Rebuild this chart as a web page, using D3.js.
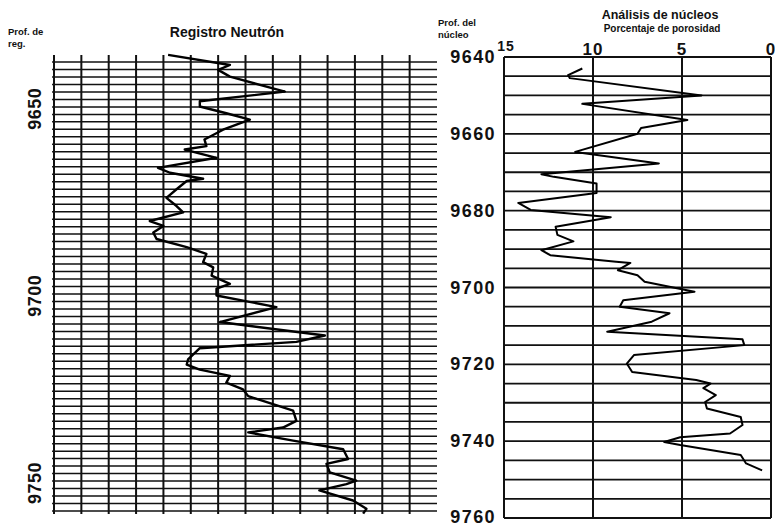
<!DOCTYPE html>
<html>

<head>
    <meta charset="utf-8">
    <script src="https://d3js.org/d3.v7.min.js"></script>
    <style>
        body { margin: 0; background: #fff; }
        svg text { font-family: "Liberation Sans", Arial, sans-serif; font-weight: bold; fill: #111; }
    </style>
</head>

<body>

    <svg id="chart"></svg>

    <script>
        // Registro Neutron: log depth (ft) and reading in chart divisions
        var logDepth = [9635.6, 9638.3, 9639.6, 9641.4, 9645.4, 9648.0, 9649.4, 9651.2, 9652.9, 9655.6,
            9658.2, 9660.0, 9660.9, 9663.1, 9665.8, 9667.1, 9668.7, 9669.3, 9671.5, 9673.8,
            9676.0, 9677.7, 9680.0, 9681.3, 9683.1, 9684.8, 9687.0, 9688.8, 9691.0, 9692.4,
            9694.6, 9696.8, 9698.1, 9699.9, 9703.0, 9707.0, 9710.6, 9712.3, 9714.0, 9717.0,
            9718.4, 9719.7, 9721.4, 9723.2, 9725.0, 9726.8, 9730.7, 9733.4, 9735.2, 9736.5,
            9738.7, 9741.0, 9743.6, 9744.9, 9747.2, 9749.4, 9750.3, 9752.0, 9754.7, 9756.9, 9758.2];
        var neutron = [4.17, 6.43, 6.0, 6.43, 8.44, 5.33, 5.33, 6.3, 7.16, 6.18,
            5.5, 5.57, 4.78, 5.94, 3.8, 4.24, 5.45, 4.85, 4.48, 4.11,
            4.48, 4.72, 3.5, 4.0, 3.63, 3.75, 4.85, 5.57, 5.45, 5.82,
            5.76, 6.43, 5.94, 5.94, 8.13, 6.06, 9.9, 8.86, 5.33, 4.9,
            4.85, 5.33, 6.43, 6.3, 6.91, 7.1, 8.74, 8.86, 8.37, 7.1,
            8.74, 10.57, 10.75, 9.96, 10.08, 11.05, 10.69, 9.7, 10.93, 11.42, 11.3];
        var logDepthTicks = [9650, 9700, 9750];

        // Analisis de nucleos: core depth (ft) and porosity (%)
        var coreDepth = [9643.0, 9644.7, 9645.5, 9650.0, 9652.2, 9656.4, 9658.5, 9660.0, 9664.7, 9667.7,
            9670.5, 9671.2, 9672.9, 9675.4, 9678.0, 9679.8, 9681.7, 9684.2, 9686.3, 9688.0,
            9690.3, 9691.6, 9693.3, 9693.6, 9695.5, 9696.8, 9698.5, 9701.1, 9703.3, 9705.0,
            9706.7, 9708.9, 9711.5, 9713.5, 9715.0, 9717.6, 9719.8, 9722.0, 9724.1, 9725.0,
            9726.2, 9728.0, 9729.8, 9731.5, 9733.7, 9735.8, 9738.0, 9739.0, 9740.2, 9741.0,
            9743.6, 9745.8, 9747.6];
        var porosity = [10.6, 11.4, 11.3, 3.9, 10.6, 4.7, 7.3, 7.5, 11.0, 6.3,
            12.9, 12.2, 9.8, 9.8, 14.2, 13.5, 9.0, 12.1, 12.0, 11.1,
            12.9, 12.4, 8.7, 7.9, 8.6, 7.5, 7.1, 4.3, 8.3, 8.5,
            5.7, 6.7, 9.2, 1.6, 1.5, 7.7, 8.1, 7.8, 4.2, 3.4,
            3.8, 3.1, 3.7, 3.6, 1.7, 1.6, 2.3, 5.1, 6.0, 5.1,
            1.7, 1.4, 0.5];
        var coreDepthTicks = [9640, 9660, 9680, 9700, 9720, 9740, 9760];
        var porosityTicks = [15, 10, 5, 0];

        var width = 775,
            height = 526;

        var svg = d3.select("#chart")
            .attr("width", width)
            .attr("height", height);

        // ---------- left panel: neutron log ----------
        var xL = d3.scaleLinear().domain([0, 14]).range([54, 437]);
        var yL = d3.scaleLinear().domain([9637.5, 9757.5]).range([62, 511]);

        var left = svg.append("g");

        // horizontal lines every 2 ft
        left.selectAll(".hl")
            .data(d3.range(0, 61).map(i => 9637.5 + i * 2))
            .join("line")
            .attr("x1", xL(-0.07)).attr("x2", xL(14))
            .attr("y1", d => yL(d)).attr("y2", d => yL(d))
            .style("stroke", "#111")
            .style("stroke-width", 1.5);

        // vertical division lines
        left.selectAll(".vl")
            .data(d3.range(0, 14))
            .join("line")
            .attr("x1", d => xL(d)).attr("x2", d => xL(d))
            .attr("y1", 55).attr("y2", 514)
            .style("stroke", "#111")
            .style("stroke-width", 2);

        left.append("path")
            .datum(d3.zip(neutron, logDepth))
            .attr("fill", "none")
            .attr("stroke", "#000")
            .attr("stroke-width", 2.4)
            .attr("stroke-linejoin", "round")
            .attr("d", d3.line().x(d => xL(d[0])).y(d => yL(d[1])));

        // rotated depth labels
        left.selectAll(".dl")
            .data(logDepthTicks)
            .join("text")
            .attr("transform", d => "translate(41," + yL(d) + ") rotate(-90)")
            .attr("text-anchor", "middle")
            .style("font-size", "18px")
            .style("letter-spacing", "0.5px")
            .text(d => d);

        svg.append("text").attr("x", 8).attr("y", 35).style("font-size", "9.5px").text("Prof. de");
        svg.append("text").attr("x", 8).attr("y", 47).style("font-size", "9.5px").text("reg.");
        svg.append("text").attr("x", 227).attr("y", 37)
            .attr("text-anchor", "middle")
            .style("font-size", "14px")
            .text("Registro Neutrón");

        // ---------- right panel: core analysis ----------
        var xR = d3.scaleLinear().domain([15, 0]).range([504, 771]);
        var yR = d3.scaleLinear().domain([9640, 9760]).range([57, 518]);

        var right = svg.append("g");

        right.selectAll(".hr")
            .data(d3.range(9640, 9761, 5))
            .join("line")
            .attr("x1", xR(15)).attr("x2", xR(0))
            .attr("y1", d => yR(d)).attr("y2", d => yR(d))
            .style("stroke", "#111")
            .style("stroke-width", 1.8);

        right.selectAll(".vr")
            .data(porosityTicks)
            .join("line")
            .attr("x1", d => xR(d)).attr("x2", d => xR(d))
            .attr("y1", yR(9640)).attr("y2", yR(9760))
            .style("stroke", "#111")
            .style("stroke-width", 2);

        right.append("path")
            .datum(d3.zip(porosity, coreDepth))
            .attr("fill", "none")
            .attr("stroke", "#000")
            .attr("stroke-width", 2)
            .attr("stroke-linejoin", "round")
            .attr("d", d3.line().x(d => xR(d[0])).y(d => yR(d[1])));

        // depth labels (last one kept inside the page)
        right.selectAll(".dr")
            .data(coreDepthTicks)
            .join("text")
            .attr("x", 496)
            .attr("y", d => d == 9760 ? yR(d) - 1 : yR(d))
            .attr("dy", "0.34em")
            .attr("text-anchor", "end")
            .style("font-size", "18px")
            .style("letter-spacing", "1.4px")
            .text(d => d);

        // porosity tick labels
        right.selectAll(".pt")
            .data(porosityTicks)
            .join("text")
            .attr("x", d => d == 15 ? xR(d) + 2 : xR(d))
            .attr("y", d => d == 15 ? 51 : 55)
            .attr("text-anchor", "middle")
            .style("font-size", d => d == 15 ? "14px" : "17px")
            .style("letter-spacing", "1px")
            .text(d => d);

        svg.append("text").attr("x", 438).attr("y", 26).style("font-size", "9.5px").text("Prof. del");
        svg.append("text").attr("x", 438).attr("y", 38).style("font-size", "9.5px").text("núcleo");
        svg.append("text").attr("x", 660).attr("y", 19)
            .attr("text-anchor", "middle")
            .style("font-size", "12.5px")
            .text("Análisis de núcleos");
        svg.append("text").attr("x", 662).attr("y", 32)
            .attr("text-anchor", "middle")
            .style("font-size", "10px")
            .text("Porcentaje de porosidad");

    </script>
</body>

</html>
